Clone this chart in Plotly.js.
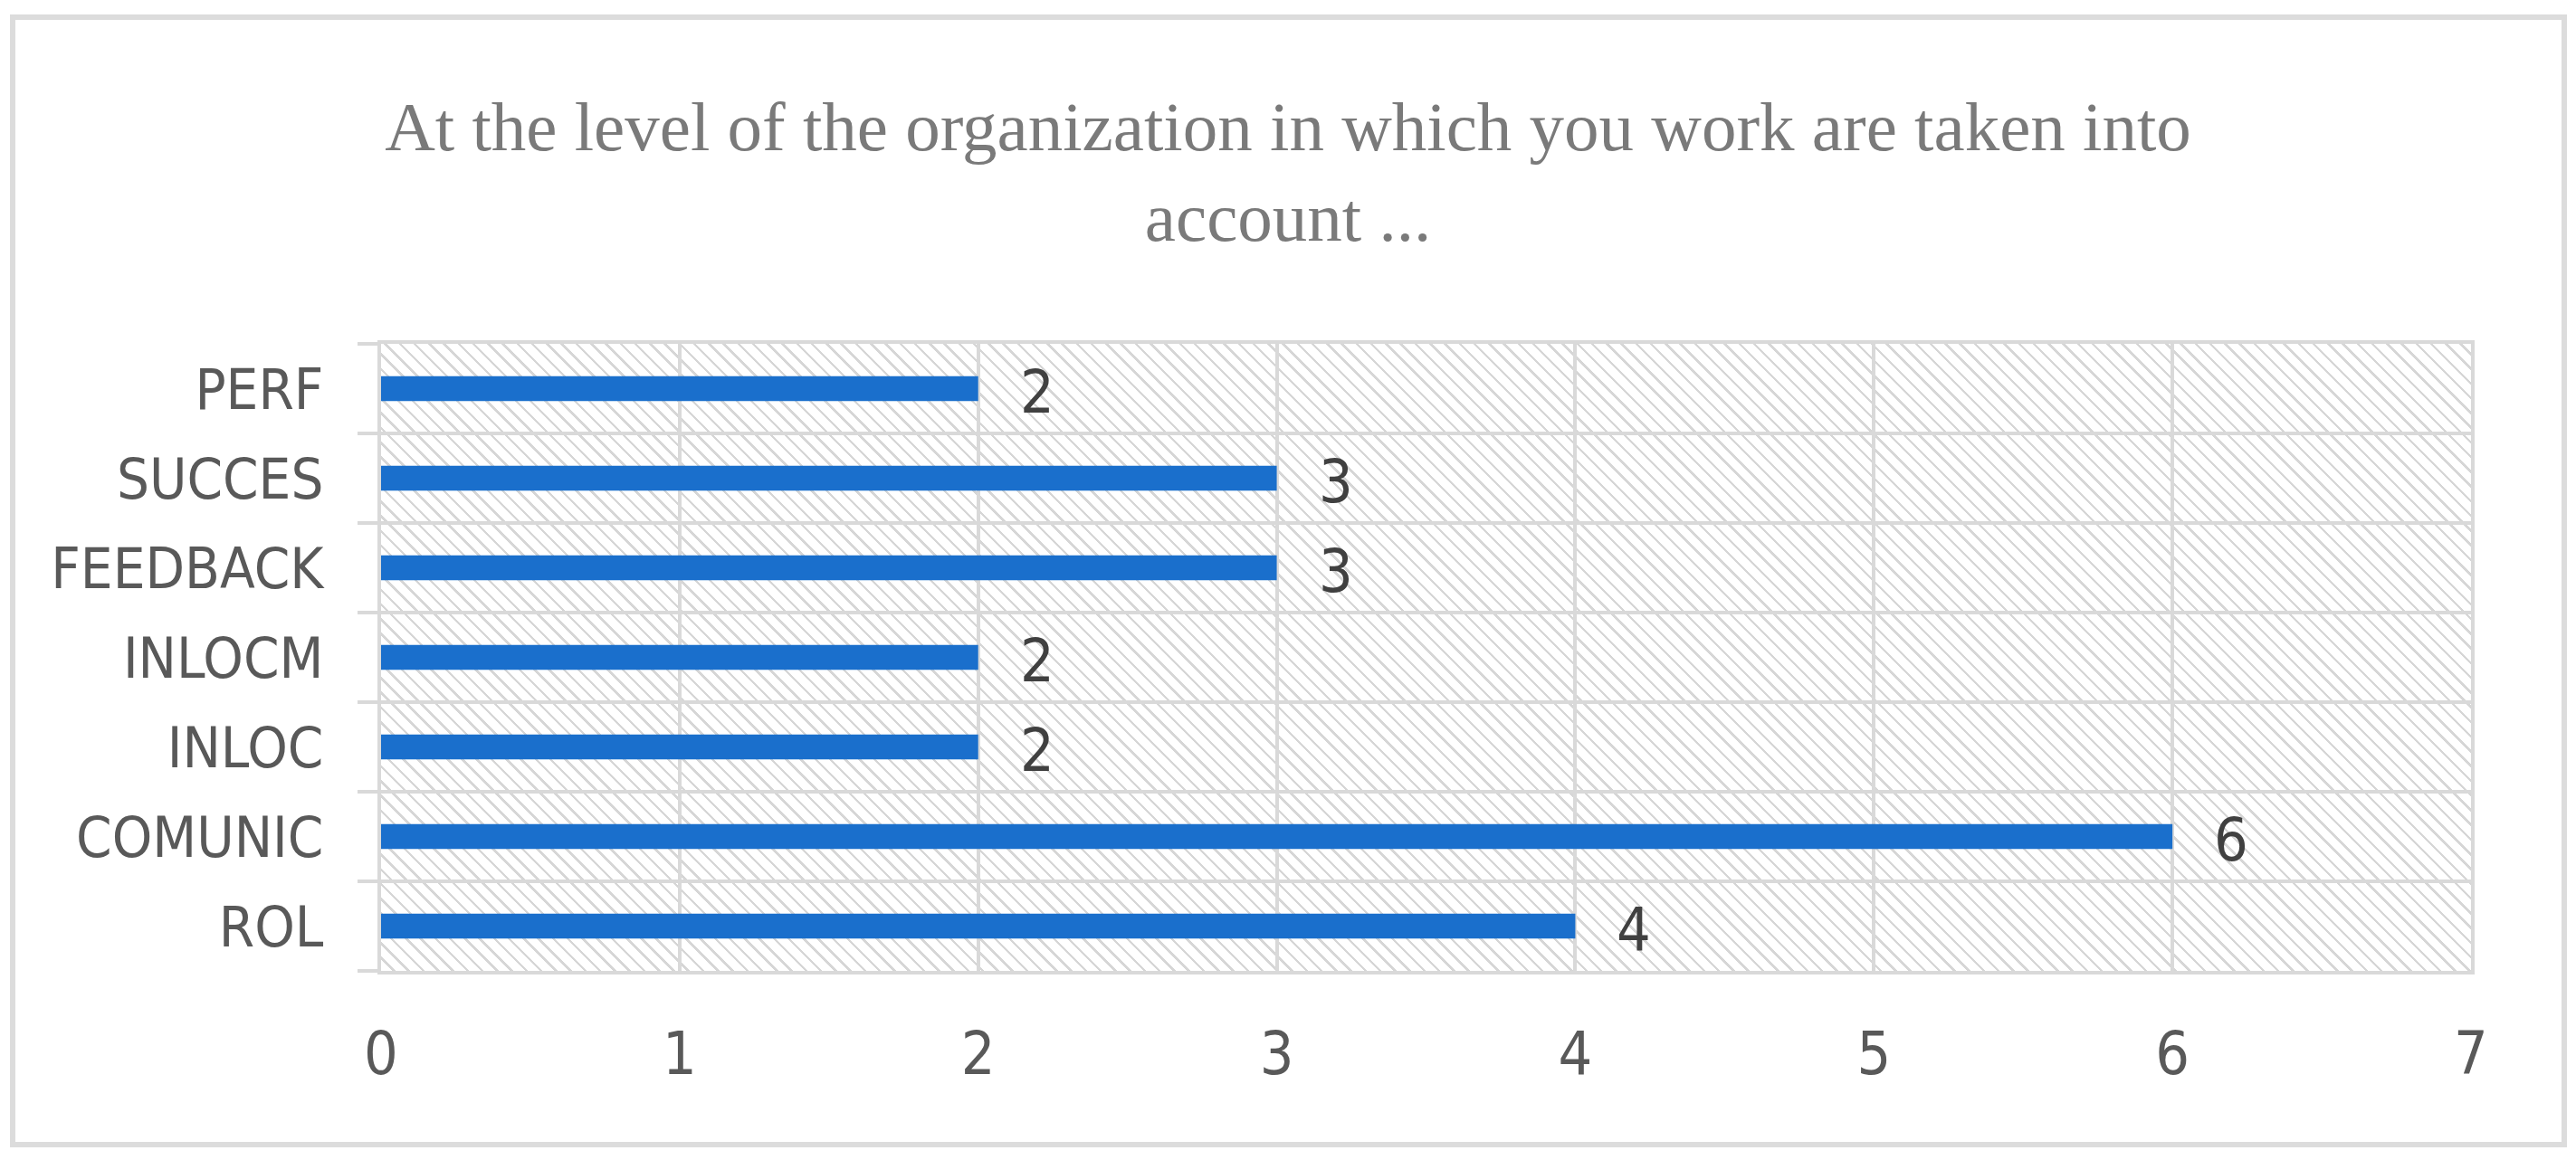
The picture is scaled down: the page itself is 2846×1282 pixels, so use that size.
<!DOCTYPE html>
<html>
<head>
<meta charset="utf-8">
<script src="https://cdn.plot.ly/plotly-3.0.1.min.js"></script>
<style>
  html, body { margin: 0; padding: 0; background: #fff; }
  #wrap { position: relative; width: 2846px; height: 1282px; }
  #frame {
    position: absolute; left: 11px; top: 16px; width: 2825px; height: 1252px;
    box-sizing: border-box; border: 6px solid #dcdcdc;
  }
  /* hatched plot background, Excel style */
  #hatch {
    position: absolute; left: 421px; top: 380px; width: 2309px; height: 693px;
    background: repeating-linear-gradient(45deg, #fff 0px, #fff 9px, #d6d6d6 9px, #d6d6d6 11.5px);
  }
  #chart { position: absolute; left: 0; top: 0; width: 2846px; height: 1282px; }
</style>
</head>
<body>
<div id="wrap">
  <div id="frame"></div>
  <div id="hatch"></div>
  <div id="chart"></div>
</div>
<script>
// ── Data (bottom to top) ──────────────────────────────────────────────────────
const categorias = ["ROL", "COMUNIC", "INLOC", "INLOCM", "FEEDBACK", "SUCCES", "PERF"];
const valores = [4, 6, 2, 2, 3, 3, 2];
const xTicks = [0, 1, 2, 3, 4, 5, 6, 7];
const titulo = "At the level of the organization in which you work are taken into<br>account ...";

const sansFont = "Liberation Sans Narrow, Arial Narrow, DejaVu Sans Condensed, sans-serif";
const gridCol = "#d9d9d9";

// data labels sit to the right of the bar ends
const labels = valores.map((v, i) => ({
  x: v,
  y: categorias[i],
  text: String(v),
  xanchor: "left",
  yanchor: "middle",
  xshift: 44,
  yshift: -4,
  showarrow: false,
  font: { family: sansFont, size: 66, color: "#404040" },
}));

Plotly.newPlot(
  "chart",
  [{
    type: "bar",
    orientation: "h",
    x: valores,
    y: categorias,
    marker: { color: "#1a6fcc" },
    hoverinfo: "x+y",
  }],
  {
    width: 2846,
    height: 1282,
    paper_bgcolor: "rgba(0,0,0,0)",
    plot_bgcolor: "rgba(0,0,0,0)",
    margin: { l: 421, r: 116, t: 380, b: 209 },
    bargap: 0.72,
    showlegend: false,
    title: {
      text: titulo,
      font: { family: "Liberation Serif, DejaVu Serif, serif", size: 77, color: "#7a7a7a" },
      x: 0.5,
      xanchor: "center",
      xref: "container",
      yref: "container",
      y: 1 - 166 / 1282,
      yanchor: "middle",
    },
    xaxis: {
      range: [0, 7],
      tickvals: xTicks,
      ticks: "",
      showgrid: true,
      gridcolor: gridCol,
      gridwidth: 4,
      zeroline: false,
      showline: true,
      mirror: true,
      linecolor: gridCol,
      linewidth: 4,
      ticklabelstandoff: 31,
      tickfont: { family: sansFont, size: 66, color: "#595959" },
      fixedrange: true,
    },
    yaxis: {
      type: "category",
      tickson: "boundaries",
      ticks: "outside",
      ticklen: 22,
      tickwidth: 4,
      tickcolor: gridCol,
      showgrid: true,
      gridcolor: gridCol,
      gridwidth: 4,
      showline: true,
      mirror: true,
      linecolor: gridCol,
      linewidth: 4,
      ticklabelstandoff: 47,
      tickfont: { family: sansFont, size: 63, color: "#595959" },
      fixedrange: true,
    },
    annotations: labels,
  },
  { displayModeBar: false, staticPlot: true }
);
</script>
</body>
</html>
